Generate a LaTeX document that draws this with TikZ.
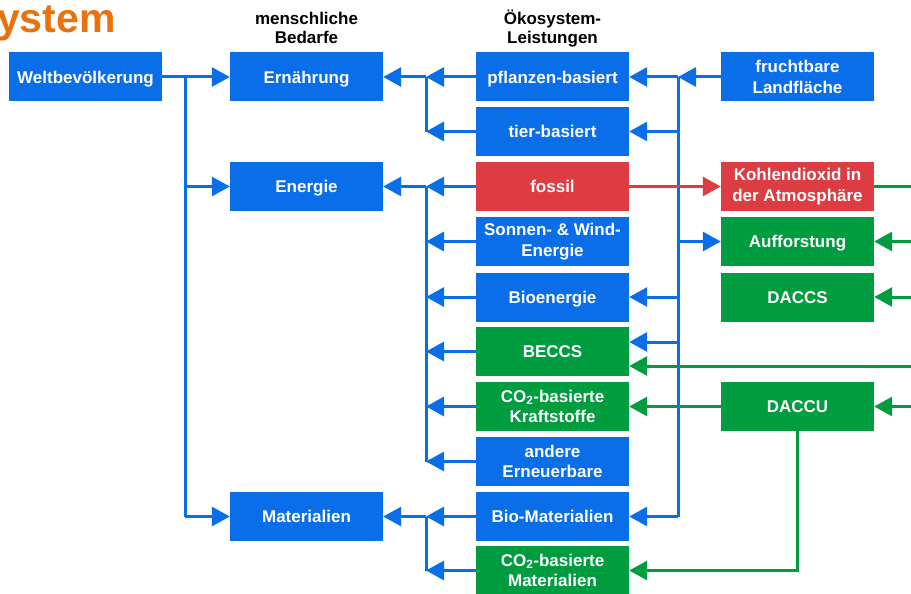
\documentclass[tikz,border=0pt]{standalone}
\usepackage{fontspec}
\setmainfont{Liberation Sans}
\usetikzlibrary{arrows.meta}
\definecolor{cblue}{RGB}{10,110,232}
\definecolor{cgreen}{RGB}{0,156,64}
\definecolor{cred}{RGB}{220,60,66}
\definecolor{corange}{RGB}{234,114,12}
\begin{document}
\begin{tikzpicture}[x=1pt,y=-1pt,
  box/.style={minimum width=153pt,minimum height=49pt,inner sep=0pt,text=white,align=center,
    font=\fontsize{17}{20.6}\selectfont\bfseries},
  sl/.style={text height=12.2pt,text depth=0pt},
  bbox/.style={box,fill=cblue},
  gbox/.style={box,fill=cgreen},
  rbox/.style={box,fill=cred},
  ttl/.style={anchor=base,inner sep=0pt,font=\fontsize{17}{20}\selectfont\bfseries},
  ln/.style={line width=3pt,cblue},
  arr/.style={ln,-{Triangle[length=18pt,width=19pt]}},
  gln/.style={line width=3pt,cgreen},
  garr/.style={gln,-{Triangle[length=18pt,width=19pt]}},
  rarr/.style={line width=3pt,cred,-{Triangle[length=18pt,width=19pt]}}
]
\useasboundingbox (0,0) rectangle (911,594);

% title
\node[anchor=base west,inner sep=0pt,text=corange,font=\fontsize{41}{41}\selectfont\bfseries] (title) at (-3,33) {ystem};
\node[ttl] (t1a) at (306.5,24.5) {menschliche};
\node[ttl] (t1b) at (306.5,44) {Bedarfe};
\node[ttl] (t2a) at (552.5,24.5) {Ökosystem-};
\node[ttl] (t2b) at (552.5,44) {Leistungen};

% column 1 and 2
\node[bbox,sl] (welt) at (85.5,77) {Weltbevölkerung};
\node[bbox,sl] (ern) at (306.5,77) {Ernährung};
\node[bbox,sl] (ene) at (306.5,186.5) {Energie};
\node[bbox,sl] (mat) at (306.5,516.5) {Materialien};

% column 3
\node[bbox,sl] (pfl) at (552.5,77) {pflanzen-basiert};
\node[bbox,sl] (tier) at (552.5,131.5) {tier-basiert};
\node[rbox,sl] (fos) at (552.5,186.5) {fossil};
\node[bbox] (sw) at (552.5,241.5) {Sonnen- \& Wind-\\Energie};
\node[bbox,sl] (bio) at (552.5,297) {Bioenergie};
\node[gbox,sl] (beccs) at (552.5,351.5) {BECCS};
\node[gbox] (co2k) at (552.5,406.5) {CO\textsubscript{2}-basierte\\Kraftstoffe};
\node[bbox] (and) at (552.5,461.5) {andere\\Erneuerbare};
\node[bbox,sl] (biom) at (552.5,516.5) {Bio-Materialien};
\node[gbox] (co2m) at (552.5,570.5) {CO\textsubscript{2}-basierte\\Materialien};

% column 4
\node[bbox] (fru) at (797.5,77) {fruchtbare\\Landfläche};
\node[rbox] (koh) at (797.5,186.5) {Kohlendioxid in\\der Atmosphäre};
\node[gbox,sl] (auf) at (797.5,241.5) {Aufforstung};
\node[gbox,sl] (daccs) at (797.5,297) {DACCS};
\node[gbox,sl] (daccu) at (797.5,406.5) {DACCU};

% bus positions
\coordinate (lb) at (185,0);
\coordinate (mb) at (426,0);
\coordinate (rb) at (678,0);
\coordinate (re) at (916,0);
\coordinate (bb) at ([yshift=9.5pt]beccs.east);
\coordinate (bg) at ([yshift=-14.5pt]beccs.east);

% green lines (under blue bus)
\draw[gln] (koh.east) -- (koh.east -| re);
\draw[garr] (auf.east -| re) -- (auf.east);
\draw[garr] (daccs.east -| re) -- (daccs.east);
\draw[garr] (daccu.east -| re) -- (daccu.east);
\draw[garr] (bg -| re) -- (bg);
\draw[garr] (daccu.west) -- (co2k.east);
\draw[garr] (daccu.south) |- (co2m.east);

% left bus
\draw[arr] (welt.east) -- (ern.west);
\draw[ln] (welt.east -| lb) -- (mat.west -| lb);
\draw[arr] (ene.west -| lb) -- (ene.west);
\draw[arr] (mat.west -| lb) -- (mat.west);

% middle bus
\foreach \n in {pfl,tier,fos,sw,bio,beccs,co2k,and,biom,co2m}
  \draw[arr] (\n.west) -- (\n.west -| mb);
\draw[ln] (pfl.west -| mb) -- (tier.west -| mb);
\draw[ln] (fos.west -| mb) -- (and.west -| mb);
\draw[ln] (biom.west -| mb) -- (co2m.west -| mb);
\draw[arr] (pfl.west -| mb) -- (ern.east);
\draw[arr] (fos.west -| mb) -- (ene.east);
\draw[arr] (biom.west -| mb) -- (mat.east);

% right bus
\draw[arr] (fru.west) -- (fru.west -| rb);
\draw[ln] (fru.west -| rb) -- (biom.east -| rb);
\draw[arr] (pfl.east -| rb) -- (pfl.east);
\draw[arr] (tier.east -| rb) -- (tier.east);
\draw[arr] (auf.west -| rb) -- (auf.west);
\draw[arr] (bio.east -| rb) -- (bio.east);
\draw[arr] (bb -| rb) -- (bb);
\draw[arr] (biom.east -| rb) -- (biom.east);

% red
\draw[rarr] (fos.east) -- (koh.west);
\end{tikzpicture}
\end{document}
